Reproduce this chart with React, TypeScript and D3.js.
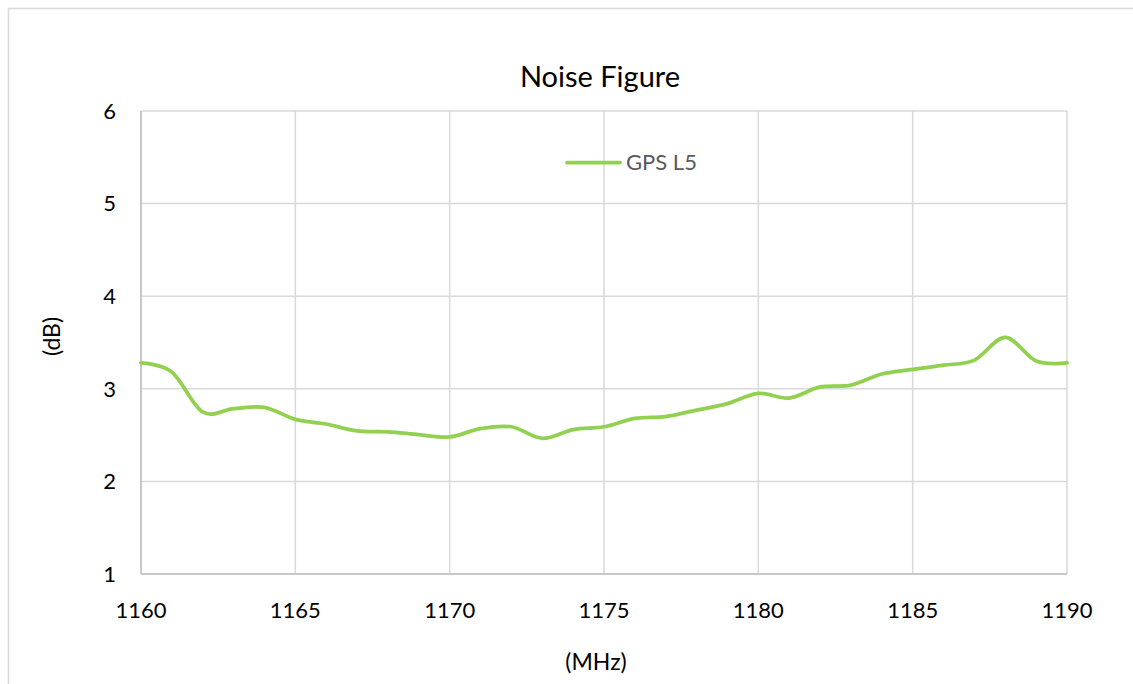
import React from "react";
import * as d3 from "d3";

const frequencies = [1160, 1161, 1162, 1163, 1164, 1165, 1166, 1167, 1168, 1169, 1170, 1171, 1172, 1173, 1174, 1175, 1176, 1177, 1178, 1179, 1180, 1181, 1182, 1183, 1184, 1185, 1186, 1187, 1188, 1189, 1190];
const gpsL5 = [3.28, 3.18, 2.75, 2.785, 2.8, 2.67, 2.62, 2.545, 2.535, 2.505, 2.48, 2.57, 2.59, 2.465, 2.56, 2.59, 2.68, 2.70, 2.77, 2.84, 2.95, 2.90, 3.02, 3.04, 3.16, 3.21, 3.255, 3.31, 3.556, 3.30, 3.28];
const xTicks = [1160, 1165, 1170, 1175, 1180, 1185, 1190];
const yTicks = [1, 2, 3, 4, 5, 6];
const title = "Noise Figure";
const seriesName = "GPS L5";
const xLabel = "(MHz)";
const yLabel = "(dB)";

const W = 1133;
const H = 684;
const plot = { left: 141, right: 1067, top: 111, bottom: 574 };
const font = "Lato, 'Open Sans', sans-serif";
const green = "#92D050";

export default function App() {
  const x = d3.scaleLinear().domain([1160, 1190]).range([plot.left, plot.right]);
  const y = d3.scaleLinear().domain([1, 6]).range([plot.bottom, plot.top]);
  const line = d3
    .line<number>()
    .x((_, i) => x(frequencies[i]))
    .y((d) => y(d))
    .curve(d3.curveCatmullRom.alpha(0));
  const path = line(gpsL5) || "";

  return (
    <svg width={W} height={H} style={{ position: "absolute", left: 0, top: 0, display: "block" }}>
      <rect x={0} y={0} width={W} height={H} fill="#ffffff" />
      <rect x={8.5} y={8.5} width={W + 20} height={H + 20} fill="none" stroke="#d9d9d9" strokeWidth={1.5} />
      {yTicks.map((t) => (
        <line key={"gy" + t} x1={plot.left} x2={plot.right} y1={y(t)} y2={y(t)} stroke="#d9d9d9" strokeWidth={1.5} />
      ))}
      {xTicks.map((t) => (
        <line key={"gx" + t} x1={x(t)} x2={x(t)} y1={plot.top} y2={plot.bottom} stroke="#d9d9d9" strokeWidth={1.5} />
      ))}
      <line x1={plot.left} x2={plot.left} y1={plot.top} y2={plot.bottom} stroke="#bfbfbf" strokeWidth={1.5} />
      <line x1={plot.left} x2={plot.right} y1={plot.bottom} y2={plot.bottom} stroke="#bfbfbf" strokeWidth={1.5} />
      {yTicks.map((t) => (
        <text key={"ly" + t} x={116} y={y(t)} dy="0.35em" textAnchor="end" fontFamily={font} fontSize={22} fill="#000">
          {t}
        </text>
      ))}
      {xTicks.map((t) => (
        <text key={"lx" + t} x={x(t)} y={618} textAnchor="middle" fontFamily={font} fontSize={22} fill="#000">
          {t}
        </text>
      ))}
      <path d={path} fill="none" stroke={green} strokeWidth={3.75} strokeLinecap="round" strokeLinejoin="round" />
      <text x={600} y={87} textAnchor="middle" fontFamily={font} fontSize={29} fill="#000">
        {title}
      </text>
      <text x={596} y={670} textAnchor="middle" fontFamily={font} fontSize={23} fill="#000">
        {xLabel}
      </text>
      <text transform={`translate(60, ${(plot.top + plot.bottom) / 2 - 6}) rotate(-90)`} textAnchor="middle" fontFamily={font} fontSize={23} fill="#000">
        {yLabel}
      </text>
      <line x1={567} x2={620} y1={162.5} y2={162.5} stroke={green} strokeWidth={3.75} strokeLinecap="round" />
      <text x={626} y={162.5} dy="0.35em" fontFamily={font} fontSize={22} fill="#595959">
        {seriesName}
      </text>
    </svg>
  );
}
